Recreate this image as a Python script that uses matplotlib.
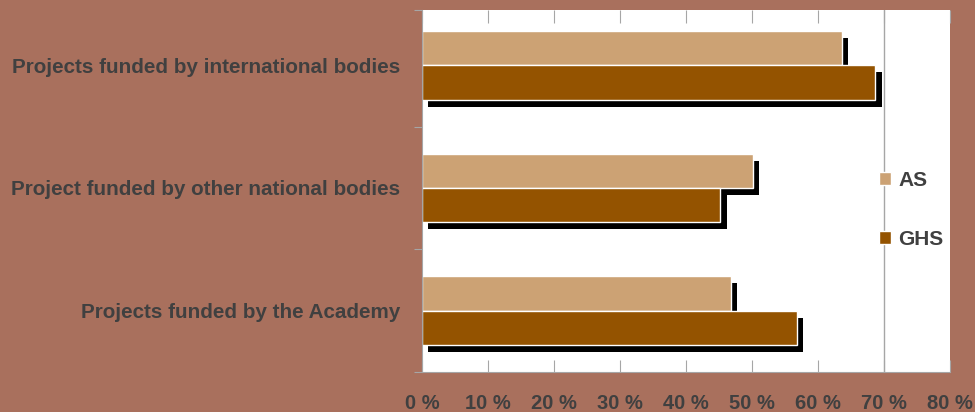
import matplotlib
matplotlib.use('Agg')
import matplotlib.pyplot as plt
import matplotlib.patheffects as pe
from matplotlib.patches import Patch
import numpy as np


# values (percent)
categories = ['Projects funded by the Academy',
              'Project funded by other national bodies',
              'Projects funded by international bodies']
as_values = [46.8, 50.1, 63.6]
ghs_values = [56.8, 45.2, 68.7]
x_ticks = [0, 10, 20, 30, 40, 50, 60, 70, 80]
x_labels = ['%d %%' % t for t in x_ticks]

bg = '#A9705D'
as_color = '#CCA274'
ghs_color = '#945300'
text_color = '#404040'
grey = '#A6A6A6'

plt.rcParams['font.family'] = ['Liberation Sans', 'DejaVu Sans']

fig = plt.figure(figsize=(9.75, 4.12), dpi=100, facecolor=bg)
ax = fig.add_axes([422/975, 1 - 372/412, 528/975, 362/412])
ax.set_facecolor('white')

y = np.arange(len(categories))
h = 0.28
shadow = [pe.SimplePatchShadow(offset=(4.5, -5), shadow_rgbFace='black', alpha=1.0), pe.Normal()]

ax.axvline(70, color=grey, lw=1, zorder=0.5)

ax.barh(y + h/2, as_values, height=h, color=as_color, edgecolor='white', linewidth=1,
        path_effects=shadow, zorder=2)
ax.barh(y - h/2, ghs_values, height=h, color=ghs_color, edgecolor='white', linewidth=1,
        path_effects=shadow, zorder=2)

ax.set_xlim(0, 80)
ax.set_ylim(-0.5, 2.45)

ax.set_xticks(x_ticks)
ax.set_xticklabels(x_labels, fontsize=14.5, fontweight='bold', color=text_color)
ax.tick_params(axis='x', direction='in', length=9, color=grey, top=True, pad=16)

# group boundaries carry the tick marks, the names sit on minor ticks
ax.set_yticks([-0.5, 0.5, 1.5, 2.45])
ax.set_yticklabels([])
ax.set_yticks(y, minor=True)
ax.set_yticklabels(categories, minor=True, fontsize=14.9, fontweight='bold', color=text_color)
ax.tick_params(axis='y', which='major', direction='out', length=6, color=grey)
ax.tick_params(axis='y', which='minor', length=0, pad=16)

for s in ['top', 'right']:
    ax.spines[s].set_visible(False)
ax.spines['left'].set_color(grey)
ax.spines['bottom'].set_color(grey)

handles = [Patch(facecolor=as_color, edgecolor='white', label='AS'),
           Patch(facecolor=ghs_color, edgecolor='white', label='GHS')]
leg = ax.legend(handles=handles, loc='center left', bbox_to_anchor=(0.866, 0.448),
                frameon=False, borderpad=0, borderaxespad=0, handlelength=0.55,
                handleheight=0.55, handletextpad=0.35, labelspacing=1.9,
                prop={'size': 15, 'weight': 'bold'})
for t in leg.get_texts():
    t.set_color(text_color)

fig.savefig('out.png', dpi=100, facecolor=bg)
